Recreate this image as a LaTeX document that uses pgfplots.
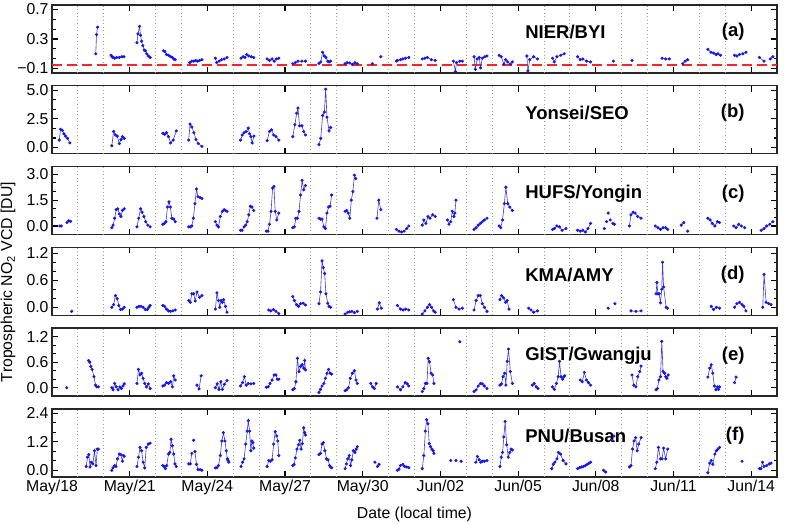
\documentclass[border=0pt]{standalone}
\usepackage{fontspec}
\setmainfont{Liberation Sans}
\usepackage{pgfplots}
\pgfplotsset{compat=1.18}
\definecolor{obsblue}{RGB}{20,20,255}
\definecolor{refred}{RGB}{255,35,35}
\newcommand{\tickfont}{\fontsize{15.8pt}{18pt}\selectfont}
\newcommand{\tagfont}{\fontsize{18.5pt}{20pt}\selectfont\bfseries}

\pgfplotsset{
  panel/.style={
    scale only axis, width=725pt, height=68pt,
    anchor=south west,
    xmin=0, xmax=28,
    xtick={0,3,...,27}, xticklabels={},
    extra x ticks={1,2,4,5,7,8,10,11,13,14,16,17,19,20,22,23,25,26},
    extra x tick labels={},
    extra x tick style={grid=major, major tick length=0pt,
        major grid style={gray!75, line width=0.9pt, dash pattern=on 0.9pt off 2.6pt}},
    tick align=inside,
    major tick length=6pt, minor tick length=3.5pt,
    minor y tick num=2,
    tick style={black, line width=1.1pt},
    axis line style={black!85, line width=1.4pt},
    tick label style={font=\tickfont},
    unbounded coords=jump,
  },
  obs/.style={obsblue!85, line width=0.6pt, mark=*, mark size=1.25pt,
    mark options={fill=obsblue, draw=obsblue, solid}},
}

\begin{document}
\begin{tikzpicture}
\path[use as bounding box] (0pt,0pt) rectangle (800pt,524pt);

% (a) NIER/BYI
\begin{axis}[panel, at={(52pt,451pt)},
  ymin=-0.16, ymax=0.76, ytick={-0.1,0.3,0.7}, yticklabels={−0.1,0.3,0.7}]
\addplot[refred, line width=2pt, dash pattern=on 10pt off 5pt] coordinates {(0,-0.055)(28,-0.055)};
\addplot[obs] coordinates {
(1.69,0.10)(1.72,0.36)(1.76,0.46)(2,nan)
(2.28,0.08)(2.32,0.06)(2.36,0.05)(2.42,0.04)(2.5,0.05)(2.6,0.05)(2.7,0.06)(2.78,0.06)(3,nan)
(3.28,0.25)(3.32,0.37)(3.38,0.47)(3.42,0.35)(3.46,0.27)(3.51,0.21)(3.56,0.15)(3.61,0.14)(3.66,0.10)(3.72,0.07)(3.79,0.05)(4,nan)
(4.31,0.14)(4.36,0.13)(4.42,0.09)(4.5,0.08)(4.58,0.06)(4.65,0.05)(4.7,0.03)(4.76,0.02)(5,nan)
(5.32,-0.02)(5.4,0.0)(5.48,0.0)(5.55,0.01)(5.62,0.0)(5.7,0.01)(5.79,0.02)(6,nan)
(6.31,0.04)(6.36,-0.02)(6.45,0.0)(6.55,0.02)(6.65,0.03)(6.76,0.05)(7,nan)
(7.30,0.04)(7.38,0.06)(7.45,0.05)(7.52,0.09)(7.6,0.07)(7.7,0.06)(7.79,0.05)(8,nan)
(8.31,0.03)(8.4,0.01)(8.5,0.03)(8.58,0.0)(8.67,0.03)(8.76,0.04)(9,nan)
(9.30,-0.035)(9.4,-0.02)(9.5,0.0)(9.65,0.0)(9.79,0.0)(10,nan)
(10.31,-0.03)(10.38,-0.01)(10.45,0.12)(10.52,0.07)(10.58,0.05)(10.65,0.0)(10.7,-0.01)(10.76,0.0)(11,nan)
(11.32,-0.035)(11.4,-0.02)(11.5,-0.025)(11.6,-0.045)(11.7,-0.02)(11.79,-0.035)(12,nan)
(12.37,-0.035)(12.5,nan)(12.7,0.06)(13,nan)
(13.3,0.0)(13.34,0.01)(13.46,0.02)(13.55,0.03)(13.65,0.04)(13.78,0.05)(14,nan)
(14.3,0.03)(14.4,0.04)(14.5,0.05)(14.65,0.02)(14.8,0.01)(15,nan)
(15.5,0.0)(15.58,-0.14)(15.62,-0.02)(15.75,0.0)(15.85,0.0)(16,nan)
(16.3,0.06)(16.35,-0.11)(16.42,0.03)(16.5,0.05)(16.55,-0.09)(16.62,0.04)(16.72,0.06)(16.8,0.07)(17,nan)
(17.27,0.08)(17.35,0.06)(17.45,-0.04)(17.52,0.02)(17.6,-0.01)(17.7,-0.04)(17.78,-0.01)(18,nan)
(18.34,0.07)(18.38,-0.13)(18.45,0.02)(18.6,0.06)(18.75,0.03)(19,nan)
(19.33,0.04)(19.4,-0.01)(19.5,0.06)(19.65,0.08)(19.78,0.1)(20,nan)
(20.3,0.06)(20.4,0.02)(20.5,0.03)(20.65,0.0)(20.8,-0.01)(21,nan)
(21.68,0.0)(22,nan)
(22.40,0.01)(23,nan)
(23.56,0.04)(23.7,0.03)(23.84,0.03)(24,nan)
(24.36,-0.035)(24.45,0.0)(24.55,0.02)(25,nan)
(25.33,0.16)(25.45,0.12)(25.55,0.11)(25.65,0.09)(25.72,0.1)(25.82,0.08)(26,nan)
(26.36,0.08)(26.45,0.07)(26.55,0.09)(26.68,0.1)(26.8,0.12)(27,nan)
(27.32,0.05)(27.5,0.0)(27.6,nan)(27.74,0.03)(27.84,0.06)
};
\node[anchor=west, font=\tagfont] at (rel axis cs:0.648,0.6) {NIER/BYI};
\node[anchor=east, font=\tagfont] at (rel axis cs:0.96,0.6) {(a)};
\end{axis}

% (b) Yonsei/SEO
\begin{axis}[panel, at={(52pt,370.2pt)},
  ymin=-0.55, ymax=5.4, ytick={0,2.5,5}, yticklabels={0.0,2.5,5.0}]
\addplot[obs] coordinates {
(0.28,0.65)(0.33,1.6)(0.4,1.5)(0.46,1.2)(0.52,1.0)(0.6,0.8)(0.69,0.4)(1,nan)
(2.31,0.15)(2.38,1.4)(2.45,1.1)(2.52,1.0)(2.6,0.35)(2.67,0.7)(2.72,0.95)(2.79,0.8)(3,nan)
(4.28,1.25)(4.35,1.15)(4.42,1.3)(4.5,0.95)(4.58,0.4)(4.68,0.65)(4.8,1.45)(5,nan)
(5.28,0.65)(5.33,2.05)(5.4,1.8)(5.48,1.3)(5.56,0.7)(5.65,0.35)(5.79,0.1)(6,nan)
(7.28,0.65)(7.35,1.1)(7.42,1.3)(7.5,1.4)(7.58,1.7)(7.63,1.2)(7.68,0.95)(7.73,0.4)(7.8,1.0)(8,nan)
(8.31,0.6)(8.4,1.4)(8.48,1.55)(8.56,1.1)(8.65,0.95)(8.76,0.65)(9,nan)
(9.3,0.95)(9.38,2.0)(9.45,3.0)(9.5,3.45)(9.56,1.9)(9.65,1.9)(9.72,1.4)(9.79,1.1)(10,nan)
(10.31,0.25)(10.38,0.8)(10.45,2.8)(10.52,3.1)(10.57,5.1)(10.62,2.65)(10.7,1.45)(10.76,1.75)
};
\node[anchor=west, font=\tagfont] at (rel axis cs:0.648,0.6) {Yonsei/SEO};
\node[anchor=east, font=\tagfont] at (rel axis cs:0.96,0.6) {(b)};
\end{axis}

% (c) HUFS/Yongin
\begin{axis}[panel, at={(52pt,289.4pt)},
  ymin=-0.5, ymax=3.45, ytick={0,1.5,3}, yticklabels={0.0,1.5,3.0}]
\addplot[obs] coordinates {
(0.3,0.0)(0.36,0.0)(0.45,nan)(0.58,0.2)(0.65,0.3)(0.72,0.27)(1,nan)
(2.31,-0.1)(2.36,0.05)(2.42,0.45)(2.48,0.95)(2.54,1.0)(2.6,0.7)(2.66,0.55)(2.72,0.9)(2.79,1.0)(3,nan)
(3.28,-0.05)(3.35,0.45)(3.42,1.0)(3.48,0.8)(3.55,0.55)(3.62,0.25)(3.7,0.05)(3.79,-0.05)(4,nan)
(4.28,0.1)(4.34,0.15)(4.4,0.25)(4.46,1.1)(4.52,1.4)(4.57,1.1)(4.63,0.45)(4.7,0.4)(4.76,0.25)(5,nan)
(5.28,-0.05)(5.34,-0.05)(5.4,0.0)(5.46,0.45)(5.52,1.3)(5.58,2.15)(5.64,1.7)(5.72,1.65)(5.79,1.6)(6,nan)
(6.31,0.25)(6.37,0.05)(6.43,-0.05)(6.5,0.55)(6.58,0.85)(6.65,0.95)(6.7,0.9)(6.76,0.85)(7,nan)
(7.28,-0.25)(7.34,-0.25)(7.42,-0.05)(7.48,0.05)(7.54,0.25)(7.6,0.65)(7.66,1.15)(7.72,1.1)(7.79,0.9)(8,nan)
(8.28,-0.3)(8.34,-0.3)(8.4,0.1)(8.46,0.85)(8.52,2.2)(8.57,2.3)(8.62,0.85)(8.68,0.35)(8.76,0.75)(9,nan)
(9.3,-0.1)(9.36,-0.05)(9.42,0.45)(9.48,0.45)(9.54,0.85)(9.6,1.8)(9.66,2.65)(9.72,2.1)(9.79,2.35)(10,nan)
(10.31,0.45)(10.37,0.4)(10.43,0.4)(10.5,-0.05)(10.56,-0.15)(10.62,0.75)(10.68,1.1)(10.74,1.15)(10.8,1.8)(11,nan)
(11.32,0.85)(11.38,0.9)(11.44,0.75)(11.5,0.45)(11.56,1.5)(11.62,2.0)(11.68,2.95)(11.73,2.75)(12,nan)
(12.55,0.45)(12.62,1.5)(12.7,0.95)(13,nan)
(13.3,-0.2)(13.4,-0.3)(13.5,-0.35)(13.6,-0.3)(13.7,-0.15)(13.78,0.0)(14,nan)
(14.3,0.05)(14.36,0.35)(14.44,0.15)(14.52,0.55)(14.6,0.45)(14.7,0.65)(14.8,0.55)(15,nan)
(15.27,0.35)(15.33,0.1)(15.4,0.25)(15.46,0.85)(15.52,0.55)(15.56,0.75)(15.6,1.5)(16,nan)
(16.3,-0.2)(16.38,-0.1)(16.46,0.05)(16.54,0.15)(16.62,0.25)(16.7,0.35)(16.8,0.45)(17,nan)
(17.27,0.0)(17.33,-0.1)(17.4,0.35)(17.47,1.3)(17.53,2.25)(17.6,1.3)(17.68,1.1)(17.78,0.9)(18,nan)
(19.33,-0.2)(19.4,-0.15)(19.5,0.0)(19.6,-0.05)(19.7,-0.25)(19.85,-0.15)(20,nan)
(20.3,-0.25)(20.4,-0.3)(20.5,-0.25)(20.6,-0.35)(20.7,-0.15)(20.8,0.15)(21,nan)
(21.33,-0.15)(21.38,nan)(21.42,0.25)(21.45,nan)(21.48,0.75)(21.52,nan)(21.56,0.35)(21.6,nan)(21.66,0.15)(21.69,nan)(21.72,0.1)(22,nan)
(22.3,0.0)(22.36,0.65)(22.44,0.8)(22.52,0.75)(22.62,0.55)(22.75,0.45)(23,nan)
(23.3,0.0)(23.4,-0.1)(23.5,-0.2)(23.6,-0.1)(23.7,-0.1)(23.78,-0.2)(24,nan)
(24.3,0.05)(24.4,0.2)(24.48,nan)(24.55,-0.3)(25,nan)
(25.33,0.45)(25.42,0.35)(25.5,0.15)(25.6,0.0)(25.7,0.25)(25.78,0.2)(26,nan)
(26.33,0.0)(26.42,-0.1)(26.52,0.1)(26.62,0.0)(26.75,-0.1)(27,nan)
(27.39,-0.25)(27.5,-0.15)(27.6,0.0)(27.72,0.1)(27.84,0.25)
};
\node[anchor=west, font=\tagfont] at (rel axis cs:0.648,0.6) {HUFS/Yongin};
\node[anchor=east, font=\tagfont] at (rel axis cs:0.96,0.6) {(c)};
\end{axis}

% (d) KMA/AMY
\begin{axis}[panel, at={(52pt,208.6pt)},
  ymin=-0.18, ymax=1.33, ytick={0,0.6,1.2}, yticklabels={0.0,0.6,1.2}]
\addplot[obs] coordinates {
(0.76,-0.09)(1,nan)
(2.31,0.0)(2.38,0.06)(2.45,0.26)(2.52,0.19)(2.58,0.04)(2.65,-0.05)(2.72,-0.04)(2.79,0.0)(3,nan)
(3.28,0.0)(3.36,0.02)(3.44,0.02)(3.52,0.0)(3.6,-0.05)(3.68,-0.05)(3.74,0.0)(3.79,0.04)(4,nan)
(4.28,0.04)(4.35,0.02)(4.42,-0.04)(4.5,-0.08)(4.58,-0.09)(4.67,-0.08)(4.76,-0.06)(5,nan)
(5.28,0.15)(5.34,0.11)(5.4,0.3)(5.47,0.3)(5.53,0.14)(5.6,0.34)(5.7,0.22)(5.79,0.26)(6,nan)
(6.31,-0.04)(6.37,0.32)(6.43,0.15)(6.48,0.0)(6.53,0.15)(6.58,0.11)(6.63,0.17)(6.7,0.02)(6.76,-0.11)(7,nan)
(8.37,-0.06)(8.45,-0.08)(8.55,-0.05)(8.65,-0.09)(8.76,-0.14)(9,nan)
(9.3,0.24)(9.36,0.15)(9.44,0.06)(9.52,0.02)(9.6,0.08)(9.7,0.09)(9.79,0.05)(10,nan)
(10.31,0.08)(10.37,0.34)(10.43,1.03)(10.48,0.88)(10.53,0.75)(10.58,0.3)(10.65,0.09)(10.7,0.02)(10.76,0.0)(11,nan)
(11.32,-0.15)(11.42,-0.11)(11.5,-0.1)(11.58,-0.09)(11.68,-0.12)(11.79,-0.09)(12,nan)
(12.57,-0.04)(12.64,0.1)(12.72,-0.02)(13,nan)
(13.34,0.04)(13.46,-0.04)(13.56,-0.06)(13.66,-0.04)(13.78,-0.06)(14,nan)
(14.3,-0.15)(14.4,-0.08)(14.5,0.0)(14.58,0.06)(14.66,0.0)(14.74,-0.08)(14.8,-0.11)(15,nan)
(15.5,0.17)(15.6,0.0)(15.72,-0.04)(15.85,-0.02)(16,nan)
(16.3,-0.06)(16.38,0.15)(16.46,0.26)(16.54,0.26)(16.62,0.08)(16.7,0.0)(16.8,-0.09)(17,nan)
(17.3,0.17)(17.36,0.26)(17.44,0.21)(17.52,0.11)(17.58,0.15)(17.65,-0.04)(18,nan)
(18.41,-0.02)(18.5,-0.06)(18.6,-0.11)(18.75,-0.08)(19,nan)
(21.48,-0.02)(21.6,nan)(21.74,0.08)(22,nan)
(22.36,-0.08)(22.55,-0.09)(22.75,-0.08)(23,nan)
(23.33,0.3)(23.36,0.55)(23.4,0.3)(23.45,0.3)(23.5,0.1)(23.55,0.4)(23.58,1.0)(23.62,0.45)(23.72,0.0)(23.77,-0.02)(24,nan)
(25.46,0.02)(25.55,-0.05)(25.66,0.0)(25.78,-0.02)(26,nan)
(26.36,0.0)(26.45,0.08)(26.55,0.11)(26.65,0.06)(26.72,0.02)(26.8,-0.08)(27,nan)
(27.45,0.0)(27.5,0.73)(27.58,0.11)(27.68,0.08)(27.77,0.06)
};
\node[anchor=west, font=\tagfont] at (rel axis cs:0.648,0.6) {KMA/AMY};
\node[anchor=east, font=\tagfont] at (rel axis cs:0.96,0.6) {(d)};
\end{axis}

% (e) GIST/Gwangju
\begin{axis}[panel, at={(52pt,127.8pt)},
  ymin=-0.2, ymax=1.4, ytick={0,0.6,1.2}, yticklabels={0.0,0.6,1.2}]
\addplot[obs] coordinates {
(0.57,0.0)(1,nan)
(1.41,0.64)(1.46,0.6)(1.5,0.5)(1.55,0.43)(1.62,0.26)(1.68,0.06)(1.73,0.02)(1.79,0.02)(2,nan)
(2.31,0.0)(2.36,-0.05)(2.42,0.1)(2.48,0.02)(2.55,-0.05)(2.62,0.02)(2.68,-0.02)(2.74,0.04)(2.79,0.09)(3,nan)
(3.28,0.1)(3.34,0.43)(3.4,0.3)(3.46,0.34)(3.52,0.22)(3.58,0.1)(3.65,0.02)(3.72,0.09)(3.79,-0.02)(4,nan)
(4.28,0.04)(4.35,0.06)(4.42,0.12)(4.5,0.1)(4.58,0.14)(4.65,0.02)(4.7,0.28)(4.76,0.18)(5,nan)
(5.6,0.06)(5.68,-0.03)(5.76,0.28)(6,nan)
(6.31,0.0)(6.38,0.09)(6.45,-0.04)(6.52,0.14)(6.58,-0.04)(6.66,0.08)(6.76,0.17)(7,nan)
(7.28,0.04)(7.36,0.12)(7.43,0.26)(7.5,0.06)(7.58,0.1)(7.68,0.09)(7.79,0.1)(8,nan)
(8.28,0.01)(8.35,0.02)(8.42,0.1)(8.5,0.18)(8.58,0.3)(8.65,0.3)(8.7,0.2)(8.76,0.2)(9,nan)
(9.3,-0.05)(9.36,-0.02)(9.42,0.14)(9.48,0.69)(9.54,0.38)(9.6,0.5)(9.66,0.54)(9.72,0.46)(9.76,0.64)(9.79,0.42)(10,nan)
(10.31,-0.11)(10.37,-0.04)(10.43,0.04)(10.5,0.1)(10.56,0.22)(10.62,0.34)(10.68,0.43)(10.74,0.34)(10.8,0.32)(11,nan)
(11.32,-0.07)(11.38,-0.05)(11.45,0.0)(11.52,0.22)(11.6,0.34)(11.68,0.4)(11.74,0.18)(11.79,0.1)(12,nan)
(12.31,0.1)(12.38,0.02)(12.45,-0.02)(12.52,0.1)(13,nan)
(13.34,0.02)(13.46,-0.05)(13.55,0.02)(13.64,0.12)(13.72,0.09)(13.78,0.04)(14,nan)
(14.3,-0.09)(14.36,-0.02)(14.42,0.1)(14.48,0.1)(14.53,0.69)(14.58,0.61)(14.64,0.34)(14.7,0.3)(14.75,0.1)(15,nan)
(15.75,1.08)(16,nan)
(16.3,-0.09)(16.38,-0.05)(16.46,0.04)(16.55,0.1)(16.62,0.09)(16.7,0.04)(16.8,-0.02)(17,nan)
(17.3,0.06)(17.36,0.09)(17.42,0.26)(17.48,0.34)(17.53,0.06)(17.58,0.62)(17.63,0.91)(17.7,0.38)(17.78,0.1)(18,nan)
(18.55,0.06)(18.62,0.1)(18.7,0.02)(18.77,-0.02)(19,nan)
(19.33,0.02)(19.4,-0.04)(19.48,0.1)(19.55,0.26)(19.6,0.62)(19.66,0.26)(19.72,0.2)(19.76,0.25)(19.8,0.28)(20,nan)
(20.4,0.18)(20.48,0.14)(20.56,0.36)(20.64,0.18)(20.72,0.12)(20.8,0.06)(21,nan)
(22.4,0.3)(22.47,0.06)(22.55,0.02)(22.62,0.26)(22.7,0.38)(22.75,0.51)(23,nan)
(23.33,-0.05)(23.38,-0.02)(23.44,0.18)(23.5,0.26)(23.55,1.09)(23.6,0.38)(23.66,0.34)(23.7,0.26)(23.75,0.22)(23.8,0.3)(24,nan)
(25.33,0.25)(25.4,0.46)(25.46,0.54)(25.52,0.34)(25.58,0.04)(25.64,-0.05)(25.7,0.02)(25.74,-0.04)(25.78,0.02)(26,nan)
(26.36,0.12)(26.42,0.25)
};
\node[anchor=west, font=\tagfont] at (rel axis cs:0.648,0.6) {GIST/Gwangju};
\node[anchor=east, font=\tagfont] at (rel axis cs:0.96,0.6) {(e)};
\end{axis}

% (f) PNU/Busan
\begin{axis}[panel, at={(52pt,47pt)},
  ymin=-0.28, ymax=2.57, ytick={0,1.2,2.4}, yticklabels={0.0,1.2,2.4},
  xticklabels={May/18,May/21,May/24,May/27,May/30,Jun/02,Jun/05,Jun/08,Jun/11,Jun/14}]
\addplot[obs] coordinates {
(1.32,0.16)(1.37,0.55)(1.42,0.66)(1.47,0.14)(1.52,0.34)(1.58,0.27)(1.64,0.82)(1.7,0.2)(1.75,0.89)(1.79,0.89)(2,nan)
(2.31,0.0)(2.36,0.11)(2.42,0.2)(2.47,0.16)(2.53,0.48)(2.6,0.68)(2.66,0.66)(2.72,0.38)(2.76,0.62)(2.79,0.59)(3,nan)
(3.28,0.16)(3.34,0.55)(3.4,0.96)(3.46,0.82)(3.52,0.34)(3.58,0.1)(3.64,0.96)(3.72,1.1)(3.79,1.14)(4,nan)
(4.28,0.2)(4.33,0.16)(4.38,0.07)(4.43,0.2)(4.5,0.68)(4.55,0.75)(4.6,1.3)(4.65,1.03)(4.7,0.68)(4.75,0.27)(4.8,0.16)(5,nan)
(5.28,0.27)(5.34,0.27)(5.4,0.71)(5.43,nan)(5.47,1.26)(5.5,nan)(5.52,0.79)(5.58,0.25)(5.64,0.03)(5.72,0.03)(5.79,0.0)(6,nan)
(6.31,0.1)(6.37,0.11)(6.43,0.2)(6.5,0.62)(6.56,1.23)(6.62,1.58)(6.68,1.23)(6.73,0.82)(6.77,0.48)(6.8,0.41)(6.83,0.34)(7,nan)
(7.3,0.16)(7.36,0.34)(7.42,0.48)(7.48,1.1)(7.54,1.64)(7.58,2.08)(7.63,1.64)(7.68,0.82)(7.72,1.23)(7.76,1.16)(7.79,0.93)(8,nan)
(8.31,0.16)(8.37,0.41)(8.43,0.38)(8.5,0.44)(8.56,1.1)(8.62,1.62)(8.68,1.44)(8.72,1.23)(8.76,0.62)(9,nan)
(9.3,0.2)(9.35,0.25)(9.4,0.52)(9.46,0.89)(9.52,1.07)(9.57,1.26)(9.62,0.89)(9.67,1.12)(9.72,1.78)(9.76,1.58)(9.79,1.48)(10,nan)
(10.31,0.66)(10.37,0.71)(10.43,1.1)(10.48,1.16)(10.54,0.82)(10.6,0.48)(10.66,0.44)(10.72,0.2)(10.76,0.14)(10.8,0.11)(11,nan)
(11.32,0.07)(11.37,0.27)(11.42,0.48)(11.48,0.62)(11.53,0.2)(11.58,0.44)(11.64,0.82)(11.7,0.75)(11.75,0.89)(11.79,0.99)(12,nan)
(12.47,0.34)(12.52,nan)(12.57,0.16)(12.63,0.25)(13,nan)
(13.34,0.0)(13.4,0.05)(13.46,0.2)(13.55,0.25)(13.62,0.16)(13.7,0.14)(13.78,0.11)(14,nan)
(14.3,0.07)(14.36,0.62)(14.42,1.64)(14.47,2.12)(14.52,1.95)(14.57,1.12)(14.62,0.99)(14.67,0.89)(14.72,0.82)(14.75,0.71)(15,nan)
(15.4,0.41)(15.5,nan)(15.6,0.41)(15.7,nan)(15.8,0.38)(16,nan)
(16.37,0.34)(16.43,0.58)(16.5,0.44)(16.56,0.34)(16.62,0.38)(16.7,0.38)(16.8,0.41)(17,nan)
(17.3,0.16)(17.35,0.55)(17.4,0.75)(17.45,1.4)(17.5,2.05)(17.56,1.07)(17.62,0.55)(17.68,0.75)(17.73,0.89)(17.78,0.85)(18,nan)
(19.3,0.07)(19.36,0.25)(19.42,0.34)(19.5,0.48)(19.56,0.75)(19.64,0.68)(19.74,0.41)(19.85,0.27)(20,nan)
(20.3,0.07)(20.38,0.11)(20.45,0.14)(20.52,0.16)(20.6,0.2)(20.67,0.25)(20.74,0.3)(20.8,0.34)(21,nan)
(21.3,0.0)(21.38,-0.07)(21.5,nan)(21.62,1.26)(21.7,1.44)(22,nan)
(22.3,0.14)(22.36,0.2)(22.42,0.89)(22.48,1.23)(22.54,1.37)(22.6,0.82)(22.66,1.1)(22.75,1.37)(23,nan)
(23.3,0.07)(23.36,0.34)(23.42,0.96)(23.5,0.48)(23.56,0.48)(23.62,0.93)(23.7,0.48)(23.78,0.89)(24,nan)
(25.33,-0.1)(25.4,0.3)(25.46,0.41)(25.52,0.25)(25.6,0.68)(25.66,0.82)(25.72,0.89)(25.78,0.96)(26,nan)
(26.65,0.38)(27,nan)
(27.32,0.07)(27.38,0.07)(27.44,0.34)(27.5,0.16)(27.6,0.2)(27.7,0.27)(27.77,0.3)
};
\node[anchor=west, font=\tagfont] at (rel axis cs:0.648,0.6) {PNU/Busan};
\node[anchor=east, font=\tagfont] at (rel axis cs:0.96,0.6) {(f)};
\end{axis}

\node[rotate=90, font=\tickfont] at (8pt,242pt) {Tropospheric NO\textsubscript{2} VCD [DU]};
\node[font=\tickfont] at (414.5pt,10pt) {Date (local time)};
\end{tikzpicture}
\end{document}
